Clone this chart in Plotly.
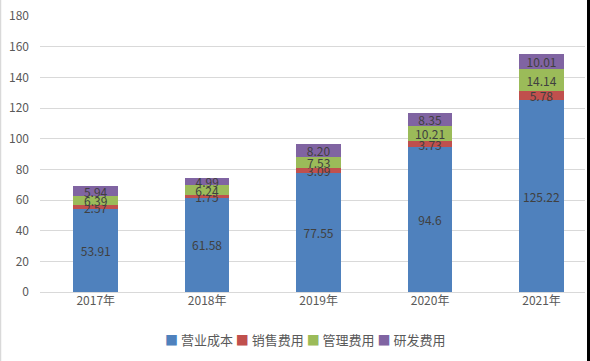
import plotly.graph_objects as go

years = ["2017年", "2018年", "2019年", "2020年", "2021年"]
series_names = ["营业成本", "销售费用", "管理费用", "研发费用"]
cost = [53.91, 61.58, 77.55, 94.6, 125.22]
sales = [2.57, 1.75, 3.09, 3.73, 5.78]
admin = [6.39, 6.24, 7.53, 10.21, 14.14]
rnd = [5.94, 4.99, 8.20, 8.35, 10.01]
cost_lbl = ["53.91", "61.58", "77.55", "94.6", "125.22"]
sales_lbl = ["2.57", "1.75", "3.09", "3.73", "5.78"]
admin_lbl = ["6.39", "6.24", "7.53", "10.21", "14.14"]
rnd_lbl = ["5.94", "4.99", "8.20", "8.35", "10.01"]
y_ticks = [0, 20, 40, 60, 80, 100, 120, 140, 160, 180]

colors = ["#4F81BD", "#C0504D", "#9BBB59", "#8064A2"]
font_fam = "Noto Sans CJK SC, Noto Sans, sans-serif"

fig = go.Figure()
for name, vals, lbl, c in zip(series_names, [cost, sales, admin, rnd],
                              [cost_lbl, sales_lbl, admin_lbl, rnd_lbl], colors):
    fig.add_trace(go.Bar(
        x=years, y=vals, name=name, text=lbl,
        marker=dict(color=c, line=dict(width=0)),
        textposition="inside", insidetextanchor="middle",
        constraintext="none", textangle=0,
        textfont=dict(color="#404040", size=12, family=font_fam),
        showlegend=False,
    ))

legend_text = "&nbsp;".join(
    f"<span style='color:{c}'>■</span> {n}" for n, c in zip(series_names, colors)
)

fig.update_layout(
    barmode="stack",
    bargap=0.6,
    width=590, height=361,
    paper_bgcolor="white", plot_bgcolor="white",
    margin=dict(l=40, r=5, t=16, b=69),
    font=dict(family=font_fam, color="#595959", size=12),
    xaxis=dict(range=[-0.5, 4.39], showgrid=False, showline=False, ticks="",
               tickfont=dict(size=12, color="#595959")),
    yaxis=dict(range=[0, 180], tickvals=y_ticks, showgrid=True, gridcolor="#D9D9D9",
               gridwidth=1, zeroline=True, zerolinecolor="#D9D9D9", zerolinewidth=1,
               ticks="", ticklabelstandoff=10,
               tickfont=dict(size=12, color="#595959")),
    annotations=[dict(text=legend_text, xref="paper", yref="paper",
                      x=265/545, y=-48/276, xanchor="center", yanchor="middle",
                      showarrow=False, font=dict(size=13, color="#595959", family=font_fam))],
)
fig.add_shape(type="line", xref="paper", yref="paper", x0=-39.5/545, x1=-39.5/545,
              y0=-69/276, y1=1+16/276, line=dict(color="#D9D9D9", width=1.5))
fig.add_shape(type="rect", xref="paper", yref="paper", x0=547/545, x1=550/545,
              y0=-69/276, y1=1+16/276, line=dict(width=0), fillcolor="black")

fig.write_html("out.html", config={"displayModeBar": False},
               post_script="document.body.style.margin='0';document.body.style.overflow='hidden';")
